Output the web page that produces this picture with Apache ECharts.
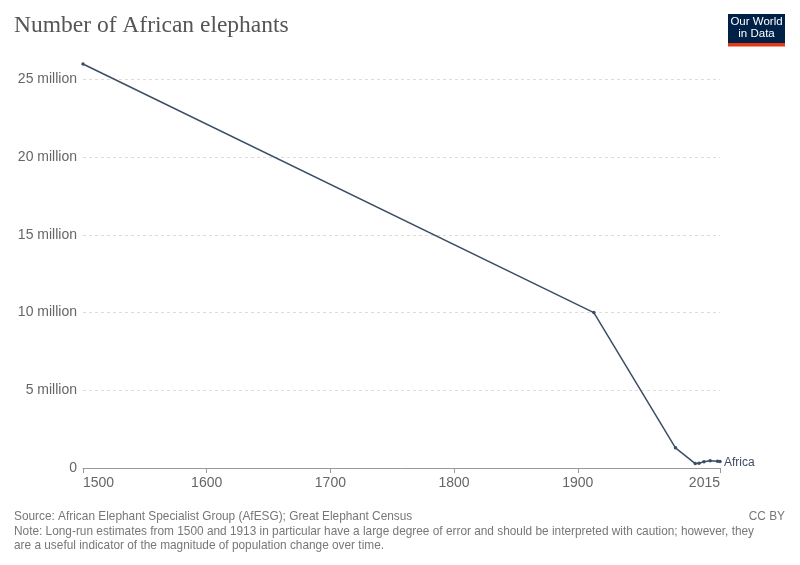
<!DOCTYPE html>
<html>
<head>
<meta charset="utf-8">
<script src="https://cdn.jsdelivr.net/npm/echarts@6/dist/echarts.min.js"></script>
<style>
  html, body { margin: 0; padding: 0; background: #fff; }
  #chart { width: 800px; height: 565px; }
</style>
</head>
<body>
<div id="chart"></div>
<script>
// Number of African elephants (AfESG / Great Elephant Census)
const years = [1500, 1913, 1979, 1995, 1998, 2002, 2007, 2013, 2015]
const elephants = [26000000, 10000000, 1300000, 286000, 301000, 402000, 472000, 433000, 415000]
const xTicks = [1500, 1600, 1700, 1800, 1900, 2015]

const lineColor = '#3c4e66'
const textColor = '#666'
const footFont = '11.85px "Liberation Sans", Arial, sans-serif'

const chart = echarts.init(document.getElementById('chart'))

const option = {
  animation: false,
  grid: { left: 83, right: 80, top: 64, bottom: 97 },
  xAxis: {
    type: 'value',
    min: 1500,
    max: 2015,
    axisLine: { show: true, lineStyle: { color: '#999', width: 1 } },
    axisTick: { show: true, length: 5, lineStyle: { color: '#999' }, customValues: xTicks },
    axisLabel: {
      customValues: xTicks,
      color: textColor,
      fontFamily: 'Liberation Sans, Arial, sans-serif',
      fontSize: 14,
      margin: 8,
      alignMinLabel: 'left',
      alignMaxLabel: 'right',
      formatter: v => String(v)
    },
    splitLine: { show: false }
  },
  yAxis: {
    type: 'value',
    min: 0,
    max: 26000000,
    interval: 5000000,
    axisLine: { show: false },
    axisTick: { show: false },
    axisLabel: {
      color: textColor,
      fontFamily: 'Liberation Sans, Arial, sans-serif',
      fontSize: 14,
      margin: 6,
      showMaxLabel: false,
      formatter: v => (v === 0 ? '0' : (v / 1e6) + ' million')
    },
    splitLine: {
      show: true,
      showMinLine: false,
      showMaxLine: false,
      lineStyle: { color: '#ddd', type: [3, 3] }
    }
  },
  series: [
    {
      name: 'Africa',
      type: 'line',
      data: years.map((y, i) => [y, elephants[i]]),
      symbol: 'circle',
      symbolSize: 3.5,
      showAllSymbol: true,
      lineStyle: { color: lineColor, width: 1.5 },
      itemStyle: { color: lineColor },
      endLabel: {
        show: true,
        formatter: 'Africa',
        color: lineColor,
        fontFamily: 'Liberation Sans, Arial, sans-serif',
        fontSize: 12,
        distance: 4,
        offset: [0, 1]
      }
    }
  ],
  graphic: [
    {
      type: 'text', left: 14, top: 14,
      style: {
        text: 'Number of African elephants',
        fill: '#555',
        font: '23.5px "Liberation Serif", "Times New Roman", serif'
      }
    },
    { type: 'rect', left: 728, top: 14, shape: { width: 57, height: 31 }, style: { fill: '#002147' } },
    { type: 'rect', left: 728, top: 43, shape: { width: 57, height: 3.5 }, style: { fill: '#e63912' } },
    {
      type: 'text', x: 756.5, y: 16,
      style: {
        text: 'Our World\nin Data',
        fill: '#fff',
        align: 'center',
        verticalAlign: 'top',
        lineHeight: 12,
        font: '11.5px "Liberation Sans Narrow", "Liberation Sans", Arial, sans-serif'
      }
    },
    {
      type: 'text', left: 14, top: 511,
      style: {
        text: 'Source: African Elephant Specialist Group (AfESG); Great Elephant Census',
        fill: '#777',
        font: footFont
      }
    },
    {
      type: 'text', right: 15, top: 511,
      style: { text: 'CC BY', fill: '#777', font: footFont }
    },
    {
      type: 'text', left: 14, top: 525,
      style: {
        text: 'Note: Long-run estimates from 1500 and 1913 in particular have a large degree of error and should be interpreted with caution; however, they\nare a useful indicator of the magnitude of population change over time.',
        fill: '#777',
        lineHeight: 13.5,
        font: footFont
      }
    }
  ]
}

chart.setOption(option)
</script>
</body>
</html>
